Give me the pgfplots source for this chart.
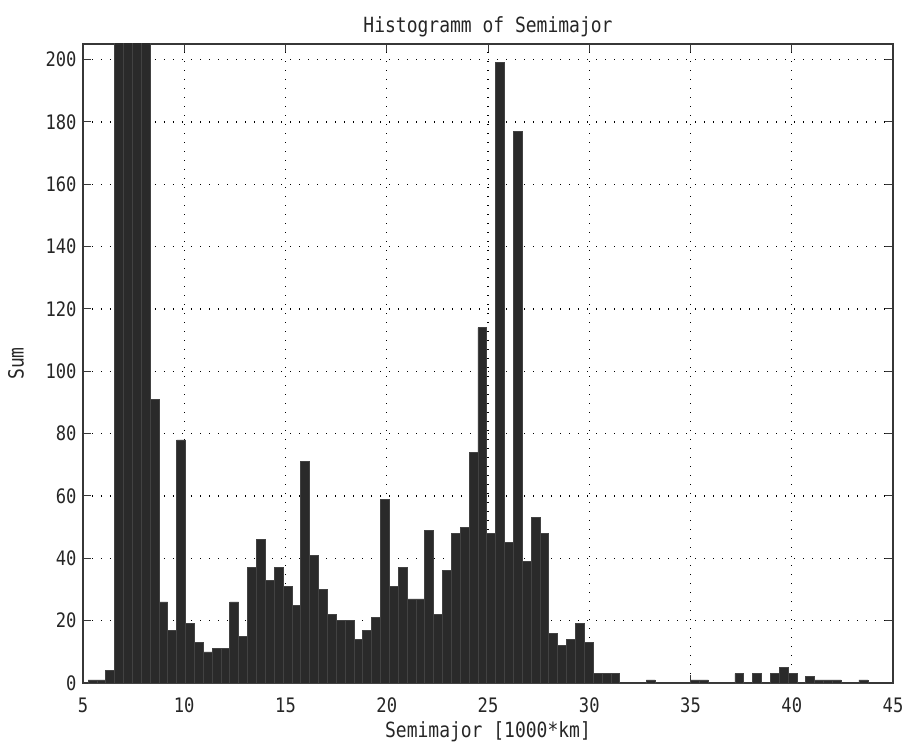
\documentclass[border=0pt]{standalone}
\usepackage{fontspec}
\setmainfont{DejaVu Sans Mono}[FakeStretch=0.86]
\usepackage{pgfplots}
\pgfplotsset{compat=1.18}
\definecolor{barfill}{RGB}{42,42,42}
\definecolor{baredge}{RGB}{66,66,66}
\definecolor{axgray}{RGB}{55,55,55}

% bin left edges and counts (last point closes the final bin)
\pgfplotstableread{
x y
5.247 1
5.685 1
6.122 4
6.560 420
6.997 610
7.435 560
7.873 330
8.310 91
8.748 26
9.185 17
9.623 78
10.061 19
10.498 13
10.936 10
11.373 11
11.811 11
12.249 26
12.686 15
13.124 37
13.561 46
13.999 33
14.437 37
14.874 31
15.312 25
15.749 71
16.187 41
16.625 30
17.062 22
17.500 20
17.937 20
18.375 14
18.813 17
19.250 21
19.688 59
20.125 31
20.563 37
21.001 27
21.438 27
21.876 49
22.313 22
22.751 36
23.189 48
23.626 50
24.064 74
24.501 114
24.939 48
25.377 199
25.814 45
26.252 177
26.689 39
27.127 53
27.565 48
28.002 16
28.440 12
28.877 14
29.315 19
29.753 13
30.190 3
30.628 3
31.065 3
31.503 0
31.941 0
32.378 0
32.816 1
33.253 0
33.691 0
34.129 0
34.566 0
35.004 1
35.441 1
35.879 0
36.317 0
36.754 0
37.192 3
37.629 0
38.067 3
38.505 0
38.942 3
39.380 5
39.817 3
40.255 0
40.693 2
41.130 1
41.568 1
42.005 1
42.443 0
42.881 0
43.318 1
43.756 0
}\semimajor

\begin{document}
\begin{tikzpicture}
\begin{axis}[
  at={(0,0)}, anchor=south west,
  scale only axis, width=810bp, height=639bp,
  xmin=5, xmax=45, ymin=0, ymax=205,
  xtick={5,10,...,45}, ytick={0,20,...,200},
  tick align=inside, major tick length=8bp, tick pos=both,
  tick style={axgray, line width=1bp},
  axis line style={axgray, line width=1.3bp},
  grid=major,
  grid style={black, line width=1.2bp, dash pattern=on 1.2bp off 7.8bp},
  /pgf/number format/assume math mode=true,
  ticklabel style={font=\fontsize{20}{22}\selectfont, text=black!85},
  xticklabel style={anchor=center, yshift=-22bp},
  yticklabel style={anchor=east, xshift=-3bp},
  title={Histogramm of Semimajor},
  title style={at={(axis description cs:0.5,1.0172)}, anchor=center,
               font=\fontsize{21}{23}\selectfont, text=black!85},
  xlabel={Semimajor [1000*km]},
  xlabel style={at={(axis description cs:0.5,-0.0767)}, anchor=center,
                font=\fontsize{21}{23}\selectfont, text=black!85},
  ylabel={Sum},
  ylabel style={at={(axis description cs:-0.0827,0.5)}, anchor=center,
                font=\fontsize{21}{23}\selectfont, text=black!85},
]
\addplot[ybar interval, fill=barfill, draw=baredge, line width=0.6bp]
  table[x=x, y=y] {\semimajor};
\end{axis}
\pgfresetboundingbox
\path ([shift={(-83bp,-59bp)}]current axis.south west)
  rectangle ([shift={(12bp,44bp)}]current axis.north east);
\end{tikzpicture}
\end{document}
